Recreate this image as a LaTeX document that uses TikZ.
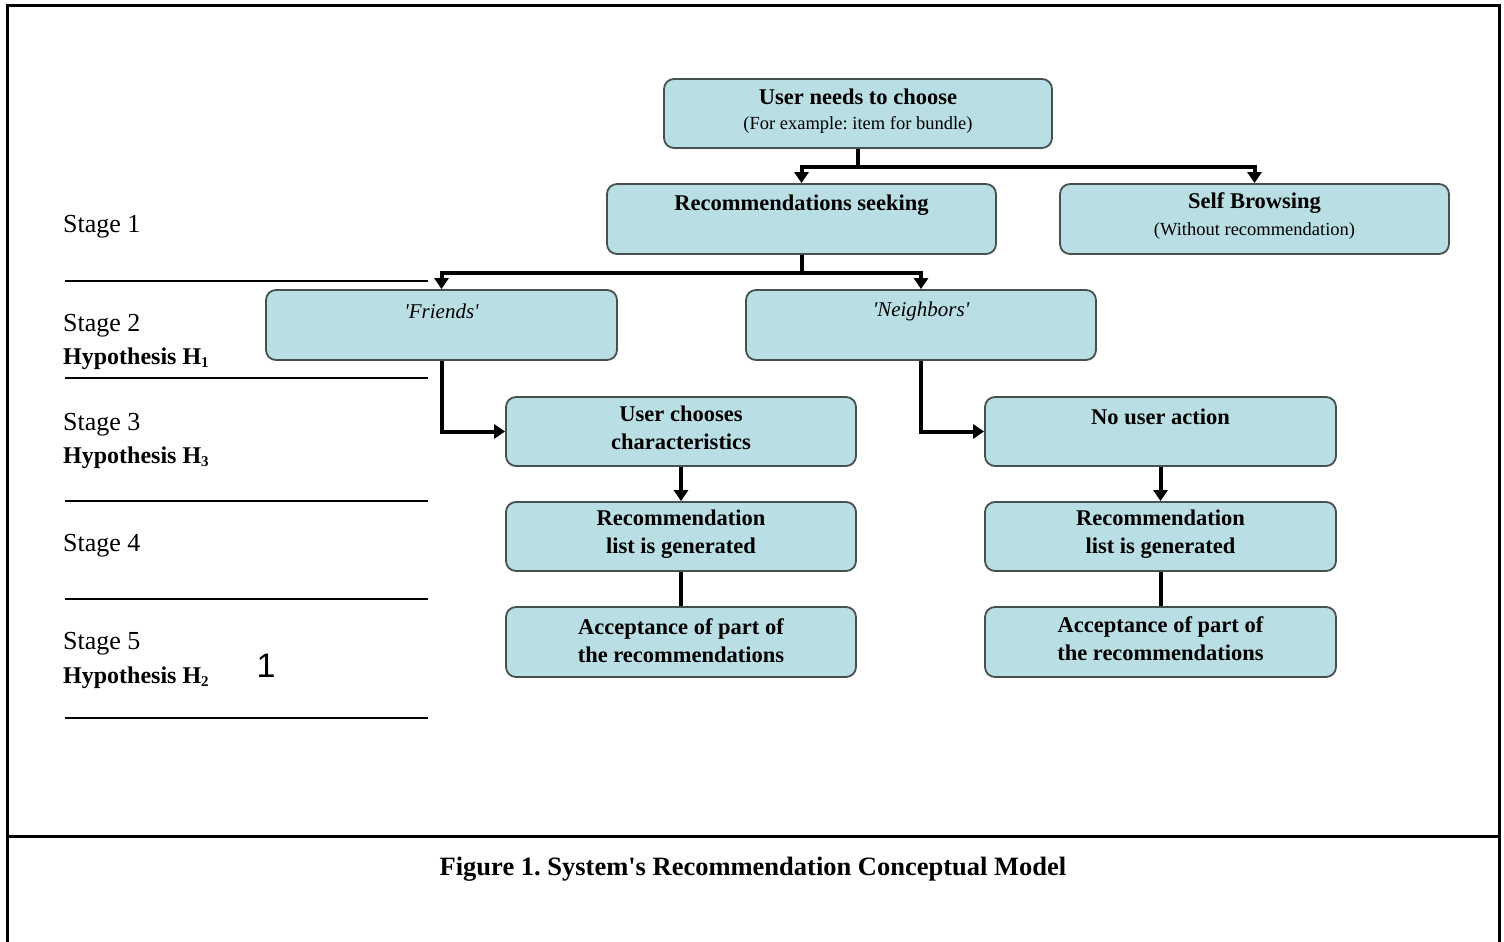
\documentclass[tikz,border=0pt]{standalone}
\usepackage{fontspec}
\setmainfont{Liberation Serif}
\newfontfamily\arialfont{Liberation Sans}
\usetikzlibrary{arrows.meta,calc}
\definecolor{boxfill}{RGB}{185,223,228}
\definecolor{boxline}{RGB}{70,80,80}
\newcommand{\hsub}[1]{\raisebox{-0.25ex}{\fontsize{15}{16}\selectfont #1}}
\tikzset{
  box/.style={draw=boxline, fill=boxfill, line width=1.8pt, rounded corners=10pt},
  conn/.style={line width=4pt, line join=miter},
  arr/.style={conn, -{Triangle[width=14pt,length=11pt]}},
  frameline/.style={line width=3pt},
  stageline/.style={line width=1.6pt},
  btitle/.style={font=\fontsize{22.5}{28}\selectfont\bfseries, align=center, inner sep=0pt},
  bsub/.style={font=\fontsize{18.5}{20}\selectfont, inner sep=0pt},
  stagelbl/.style={font=\fontsize{26}{28}\selectfont, anchor=west, inner sep=0pt},
  hyplbl/.style={font=\fontsize{24}{26}\selectfont\bfseries, anchor=west, inner sep=0pt},
}
\begin{document}
\frenchspacing
\begin{tikzpicture}[x=1pt,y=-1pt]
\useasboundingbox (0,0) rectangle (1504,942);
% frame
\draw[frameline] (7,942) -- (7,6) -- (1499,6) -- (1499,942);
\draw[frameline] (7,836) -- (1499,836);

% stage separators
\foreach \yy in {281,378,501,599,718} \draw[stageline] (65,\yy) -- (428,\yy);

% stage labels
\node[stagelbl] (st1) at (63,227) {Stage 1};
\node[stagelbl] (st2) at (63,326) {Stage 2};
\node[hyplbl] (h1) at (63,359) {Hypothesis H\hsub{1}};
\node[stagelbl] (st3) at (63,425) {Stage 3};
\node[hyplbl] (h3) at (63,458) {Hypothesis H\hsub{3}};
\node[stagelbl] (st4) at (63,546) {Stage 4};
\node[stagelbl] (st5) at (63,644) {Stage 5};
\node[hyplbl] (h2) at (63,678) {Hypothesis H\hsub{2}};
\node[font=\arialfont\fontsize{34}{36}\selectfont, inner sep=0pt] (one) at (266,666) {1};

% boxes
\node[box, minimum width=388, minimum height=69] (top) at (858,113.5) {};
\node[box, minimum width=389, minimum height=70] (rec) at (801.5,219) {};
\node[box, minimum width=389, minimum height=70] (self) at (1254.5,219) {};
\node[box, minimum width=351, minimum height=70] (friends) at (441.5,325) {};
\node[box, minimum width=350, minimum height=70] (neigh) at (921,325) {};
\node[box, minimum width=350, minimum height=69] (uc) at (681,431.5) {};
\node[box, minimum width=351, minimum height=69] (nua) at (1160.5,431.5) {};
\node[box, minimum width=350, minimum height=69] (rl1) at (681,536.5) {};
\node[box, minimum width=351, minimum height=69] (rl2) at (1160.5,536.5) {};
\node[box, minimum width=350, minimum height=70] (acc1) at (681,642) {};
\node[box, minimum width=351, minimum height=70] (acc2) at (1160.5,642) {};

% box texts
\node[btitle] (ttop) at (858,97) {User needs to choose};
\node[bsub] (stop) at (858,125) {(For example: item for bundle)};
\node[btitle] (trec) at (801.5,205) {Recommendations seeking};
\node[btitle] (tself) at (1254.5,203) {Self Browsing};
\node[bsub] (sself) at (1254.5,231) {(Without recommendation)};
\node[btitle, font=\fontsize{21}{24}\selectfont\itshape] (tfr) at (441.5,311) {\textquotesingle Friends\textquotesingle};
\node[btitle, font=\fontsize{21}{24}\selectfont\itshape] (tne) at (921,311) {\textquotesingle Neighbors\textquotesingle};
\node[btitle] (tuc) at (681,428) {User chooses\\characteristics};
\node[btitle] (tnua) at (1160.5,417) {No user action};
\node[btitle] (trl1) at (681,534) {Recommendation\\list is generated};
\node[btitle] (trl2) at (1160.5,534) {Recommendation\\list is generated};
\node[btitle] (tacc1) at (681,641) {Acceptance of part of\\the recommendations};
\node[btitle] (tacc2) at (1160.5,639) {Acceptance of part of\\the recommendations};

% connectors
\coordinate (s1) at (858,167);
\draw[conn] (top.south) -- (s1);
\draw[arr] (s1) -| (rec.north);
\draw[arr] (s1) -| (self.north);
\coordinate (s2) at (801.5,273);
\draw[conn] (rec.south) -- (s2);
\draw[arr] (s2) -| (friends.north);
\draw[arr] (s2) -| (neigh.north);
\draw[arr] (friends.south) |- (uc.west);
\draw[arr] (neigh.south) |- (nua.west);
\draw[arr] (uc.south) -- (rl1.north);
\draw[arr] (nua.south) -- (rl2.north);
\draw[conn] (rl1.south) -- (acc1.north);
\draw[conn] (rl2.south) -- (acc2.north);

% caption
\node[font=\fontsize{26.5}{28}\selectfont\bfseries, inner sep=0pt] (cap) at (753,869) {Figure 1. System\textquotesingle s Recommendation Conceptual Model};
\end{tikzpicture}
\end{document}
